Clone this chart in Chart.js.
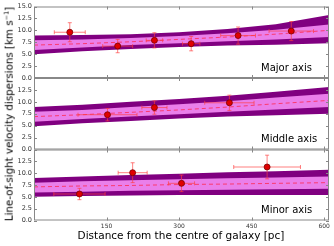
<!DOCTYPE html>
<html>
<head>
<meta charset="utf-8">
<script src="https://cdn.jsdelivr.net/npm/chart.js@4"></script>
<style>
body{margin:0;background:#fff;width:334px;height:246px;overflow:hidden;position:relative;font-family:"DejaVu Sans",sans-serif}
canvas{position:absolute;left:0}
.lbl{position:absolute;left:261px;font-size:10px;line-height:1;color:#000;white-space:nowrap}
#ytitle{position:absolute;left:9px;top:114px;transform:translate(-50%,-50%) rotate(-90deg);white-space:nowrap;font-size:10.3px;line-height:1}
#xtitle{position:absolute;left:181px;top:230px;transform:translateX(-50%);font-size:10.5px;line-height:1;white-space:nowrap}
sup{font-size:6.5px}
</style>
</head>
<body>
<canvas id="c1" width="334" height="86" style="top:0px"></canvas>
<canvas id="c2" width="334" height="88" style="top:70px"></canvas>
<canvas id="c3" width="334" height="105" style="top:141px"></canvas>
<div class="lbl" style="top:63px">Major axis</div>
<div class="lbl" style="top:134px">Middle axis</div>
<div class="lbl" style="top:205px">Minor axis</div>
<div id="ytitle">Line-of-sight velocity dispersions [km s<sup>−1</sup>]</div>
<div id="xtitle">Distance from the centre of galaxy [pc]</div>
<script>
// model band sample positions [pc]
const bandX = [0, 100, 200, 300, 400, 500, 610];
const xTicks = [150, 300, 450, 600];

// major axis
const majorMid   = [6.9, 7.2, 7.6, 8.1, 8.6, 9.2, 10.0];
const majorOutHi = [8.9, 9.0, 9.2, 9.6, 10.3, 11.3, 13.2];
const majorOutLo = [5.0, 5.6, 6.1, 6.5, 6.8, 7.0, 7.3];
const majorInHi  = [7.9, 8.1, 8.4, 8.8, 9.4, 10.1, 11.2];
const majorInLo  = [5.9, 6.4, 6.9, 7.3, 7.7, 8.1, 8.6];
const majorX    = [74, 173, 249, 325, 422, 532];
const majorY    = [9.6, 6.7, 7.9, 7.2, 8.9, 9.85];
const majorXErr = [32, 31, 17, 18, 36, 46];
const majorYErr = [2.0, 1.4, 1.6, 1.5, 1.8, 2.0];

// middle axis
const middleMid   = [6.9, 7.3, 7.8, 8.3, 8.9, 9.6, 10.3];
const middleOutHi = [8.9, 9.4, 10.0, 10.6, 11.3, 12.1, 13.1];
const middleOutLo = [4.9, 5.5, 6.0, 6.5, 6.9, 7.2, 7.5];
const middleInHi  = [7.9, 8.3, 8.9, 9.5, 10.1, 10.9, 11.7];
const middleInLo  = [5.8, 6.4, 6.9, 7.4, 7.9, 8.4, 8.9];
const middleX    = [152, 249, 404];
const middleY    = [7.3, 8.8, 9.8];
const middleXErr = [61, 26, 51];
const middleYErr = [1.3, 1.4, 1.6];

// minor axis
const minorMid   = [7.1, 7.3, 7.4, 7.6, 7.7, 7.85, 8.0];
const minorOutHi = [9.0, 9.3, 9.6, 9.9, 10.2, 10.4, 10.7];
const minorOutLo = [5.0, 5.15, 5.3, 5.4, 5.4, 5.4, 5.4];
const minorInHi  = [8.0, 8.3, 8.5, 8.7, 8.9, 9.1, 9.3];
const minorInLo  = [5.9, 6.1, 6.3, 6.4, 6.5, 6.6, 6.7];
const minorX    = [94, 204, 305, 482];
const minorY    = [5.6, 10.1, 7.85, 11.3];
const minorXErr = [53, 30, 27, 69];
const minorYErr = [1.2, 2.1, 1.75, 2.5];

const darkPurple = '#800080';
const violet     = '#ea7fea';
const dashRed    = 'rgba(255,40,80,0.8)';
const errRed     = 'rgba(255,60,60,0.65)';
const frameGray  = '#888';

const xy = (xs, ys) => xs.map((x, i) => ({x, y: ys[i]}));

const deco = {
  id: 'deco',
  beforeDatasetDraw(chart, args){
    if(args.index !== 5) return;
    const ds = chart.data.datasets[5], xs = chart.scales.x, ys = chart.scales.y, c = chart.ctx;
    c.save();
    c.strokeStyle = errRed; c.lineWidth = 1;
    ds.data.forEach((p, i) => {
      const px = xs.getPixelForValue(p.x), py = ys.getPixelForValue(p.y);
      const x0 = xs.getPixelForValue(p.x - ds.xErr[i]), x1 = xs.getPixelForValue(p.x + ds.xErr[i]);
      const y0 = ys.getPixelForValue(p.y - ds.yErr[i]), y1 = ys.getPixelForValue(p.y + ds.yErr[i]);
      c.beginPath();
      c.moveTo(x0, py); c.lineTo(x1, py);
      c.moveTo(x0, py-2); c.lineTo(x0, py+2);
      c.moveTo(x1, py-2); c.lineTo(x1, py+2);
      c.moveTo(px, y0); c.lineTo(px, y1);
      c.moveTo(px-2, y0); c.lineTo(px+2, y0);
      c.moveTo(px-2, y1); c.lineTo(px+2, y1);
      c.stroke();
    });
    c.restore();
  },
  afterDraw(chart){
    const a = chart.chartArea, c = chart.ctx, xs = chart.scales.x, ys = chart.scales.y;
    c.save();
    c.strokeStyle = frameGray; c.lineWidth = 1;
    c.strokeRect(a.left + 0.5, a.top + 0.5, a.right - a.left - 1, a.bottom - a.top - 1);
    c.beginPath();
    ys.ticks.forEach(t => {
      const py = Math.round(ys.getPixelForValue(t.value)) + 0.5;
      c.moveTo(a.left, py); c.lineTo(a.left + 3, py);
      c.moveTo(a.right, py); c.lineTo(a.right - 3, py);
    });
    xTicks.forEach(v => {
      const px = Math.round(xs.getPixelForValue(v)) + 0.5;
      c.moveTo(px, a.top); c.lineTo(px, a.top + 3);
      c.moveTo(px, a.bottom); c.lineTo(px, a.bottom - 3);
    });
    c.stroke();
    c.restore();
  }
};

function panel(id, mid, outHi, outLo, inHi, inLo, px, py, xErr, yErr, opt){
  const band = (arr, fill, col, order) => ({
    data: xy(bandX, arr), borderWidth: 0, pointRadius: 0, fill: fill,
    backgroundColor: col, borderColor: col, order: order
  });
  return new Chart(document.getElementById(id), {
    type: 'line',
    data: {
      datasets: [
        band(inHi, '+1', violet, 2),
        band(inLo, false, violet, 3),
        band(outHi, '+1', darkPurple, 4),
        band(outLo, false, darkPurple, 5),
        {data: xy(bandX, mid), borderColor: dashRed, borderWidth: 1, borderDash: [4, 3],
         pointRadius: 0, fill: false, order: 1},
        {type: 'scatter', data: xy(px, py), xErr: xErr, yErr: yErr,
         pointRadius: 3, pointBackgroundColor: '#e00000', pointBorderColor: '#7a0000',
         pointBorderWidth: 0.8, order: 0}
      ]
    },
    options: {
      responsive: false, animation: false, events: [],
      layout: {padding: {left: 0, right: 5, top: opt.top, bottom: opt.bottom}},
      plugins: {legend: {display: false}, tooltip: {enabled: false}},
      scales: {
        x: {
          type: 'linear', min: 0, max: 610, display: opt.showX,
          grid: {display: false, drawTicks: false}, border: {display: false},
          afterBuildTicks: s => { s.ticks = xTicks.map(v => ({value: v})); },
          afterFit: s => { if(opt.showX) s.height = 25.5; },
          ticks: {font: {family: 'DejaVu Sans', size: 6}, color: '#333', padding: 2, maxRotation: 0}
        },
        y: {
          min: 0, max: 15,
          grid: {display: false, drawTicks: false}, border: {display: false},
          afterFit: s => { s.width = 34; },
          ticks: {stepSize: 2.5, font: {family: 'DejaVu Sans', size: 6.5}, color: '#333', padding: 2,
                  callback: v => (opt.hideTop && v === 15) ? '' : v.toFixed(1)}
        }
      }
    },
    plugins: [deco]
  });
}

panel('c1', majorMid, majorOutHi, majorOutLo, majorInHi, majorInLo,
      majorX, majorY, majorXErr, majorYErr, {top: 6.5, bottom: 8, showX: false, hideTop: false});
panel('c2', middleMid, middleOutHi, middleOutLo, middleInHi, middleInLo,
      middleX, middleY, middleXErr, middleYErr, {top: 8, bottom: 8.5, showX: false, hideTop: true});
panel('c3', minorMid, minorOutHi, minorOutLo, minorInHi, minorInLo,
      minorX, minorY, minorXErr, minorYErr, {top: 8.5, bottom: 0, showX: true, hideTop: true});
</script>
</body>
</html>
